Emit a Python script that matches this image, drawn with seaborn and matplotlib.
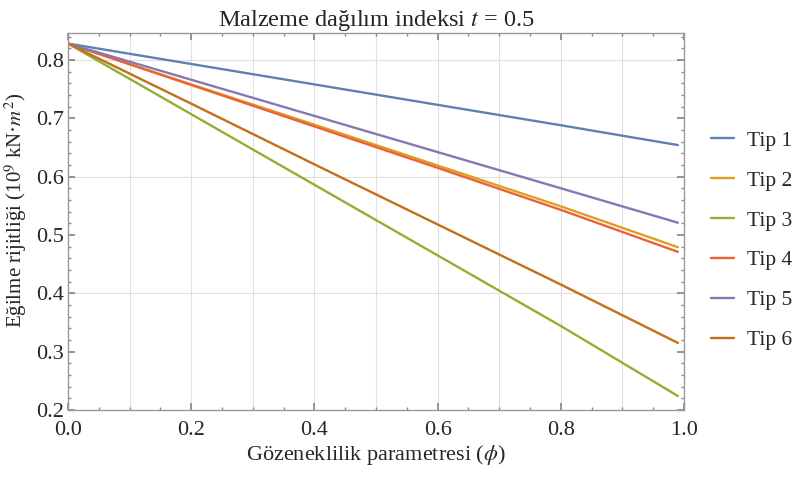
import numpy as np
import pandas as pd
import matplotlib
matplotlib.use("Agg")
import matplotlib.pyplot as plt
from matplotlib.ticker import MultipleLocator
import seaborn as sns

# Değerler
phi = [0.0, 0.2, 0.4, 0.6, 0.8, 0.99]
tip1 = [0.828, 0.793, 0.758, 0.723, 0.688, 0.654]
tip2 = [0.828, 0.758, 0.689, 0.619, 0.549, 0.479]
tip3 = [0.828, 0.707, 0.586, 0.465, 0.344, 0.224]
tip4 = [0.828, 0.757, 0.686, 0.615, 0.543, 0.471]
tip5 = [0.828, 0.766, 0.704, 0.642, 0.580, 0.521]
tip6 = [0.828, 0.725, 0.621, 0.518, 0.415, 0.315]
tipler = ['Tip 1', 'Tip 2', 'Tip 3', 'Tip 4', 'Tip 5', 'Tip 6']
renkler = ['#5E81B5', '#E19C24', '#8FB032', '#EB6235', '#8778B3', '#C56E1A']

seriler = [tip1, tip2, tip3, tip4, tip5, tip6]
df = pd.DataFrame({
    'phi': phi * len(tipler),
    'D': [v for s in seriler for v in s],
    'Tip': [t for t in tipler for _ in phi],
})

sns.set_theme(style="ticks")
plt.rcParams['font.family'] = ['Liberation Serif', 'DejaVu Serif']
plt.rcParams['mathtext.fontset'] = 'stix'

fig = plt.figure(figsize=(7.97, 4.79), dpi=100)
ax = fig.add_axes([0.0853, 0.144, 0.773, 0.787])

sns.lineplot(data=df, x='phi', y='D', hue='Tip', palette=renkler,
             linewidth=1.7, ax=ax, legend=False)

ax.set_xlim(0, 1.0)
ax.set_ylim(0.2, 0.846)
ax.xaxis.set_minor_locator(MultipleLocator(0.05))
ax.yaxis.set_major_locator(MultipleLocator(0.1))
ax.yaxis.set_minor_locator(MultipleLocator(0.02))
ax.set_xticks(np.arange(0, 1.01, 0.2))
ax.set_xticklabels([f'{v:.1f}' for v in np.arange(0, 1.01, 0.2)])

for v in np.arange(0.1, 1.0, 0.1):
    ax.axvline(v, color='#e0e0e0', lw=0.8, zorder=0)
for v in [0.4, 0.6, 0.8]:
    ax.axhline(v, color='#e0e0e0', lw=0.8, zorder=0)

ax.tick_params(which='both', direction='in', color='#888888',
               top=True, right=True, labelsize=16)
ax.tick_params(axis='x', pad=8)
ax.tick_params(axis='y', pad=3)
ax.tick_params(which='major', length=5)
ax.tick_params(which='minor', length=2.5)
for s in ax.spines.values():
    s.set_color('#999999')
    s.set_linewidth(1.0)

ax.set_title(r'Malzeme dağılım indeksi $t$ = 0.5', fontsize=17.5, pad=5)
ax.set_xlabel(r'Gözeneklilik parametresi ($\phi$)', fontsize=16, labelpad=2)
ax.set_ylabel(r'Eğilme rijitliği (10$^9$ kN·$m^2$)', fontsize=15)
ax.yaxis.set_label_coords(-0.063, 0.53)

handles = [plt.Line2D([], [], color=c, lw=1.7) for c in renkler]
fig.legend(handles, tipler, loc='center left', bbox_to_anchor=(0.881, 0.498),
           borderaxespad=0, frameon=False, fontsize=15.5, handlelength=1.1,
           handletextpad=0.6, labelspacing=0.92)

fig.savefig('out.png', dpi=100)
